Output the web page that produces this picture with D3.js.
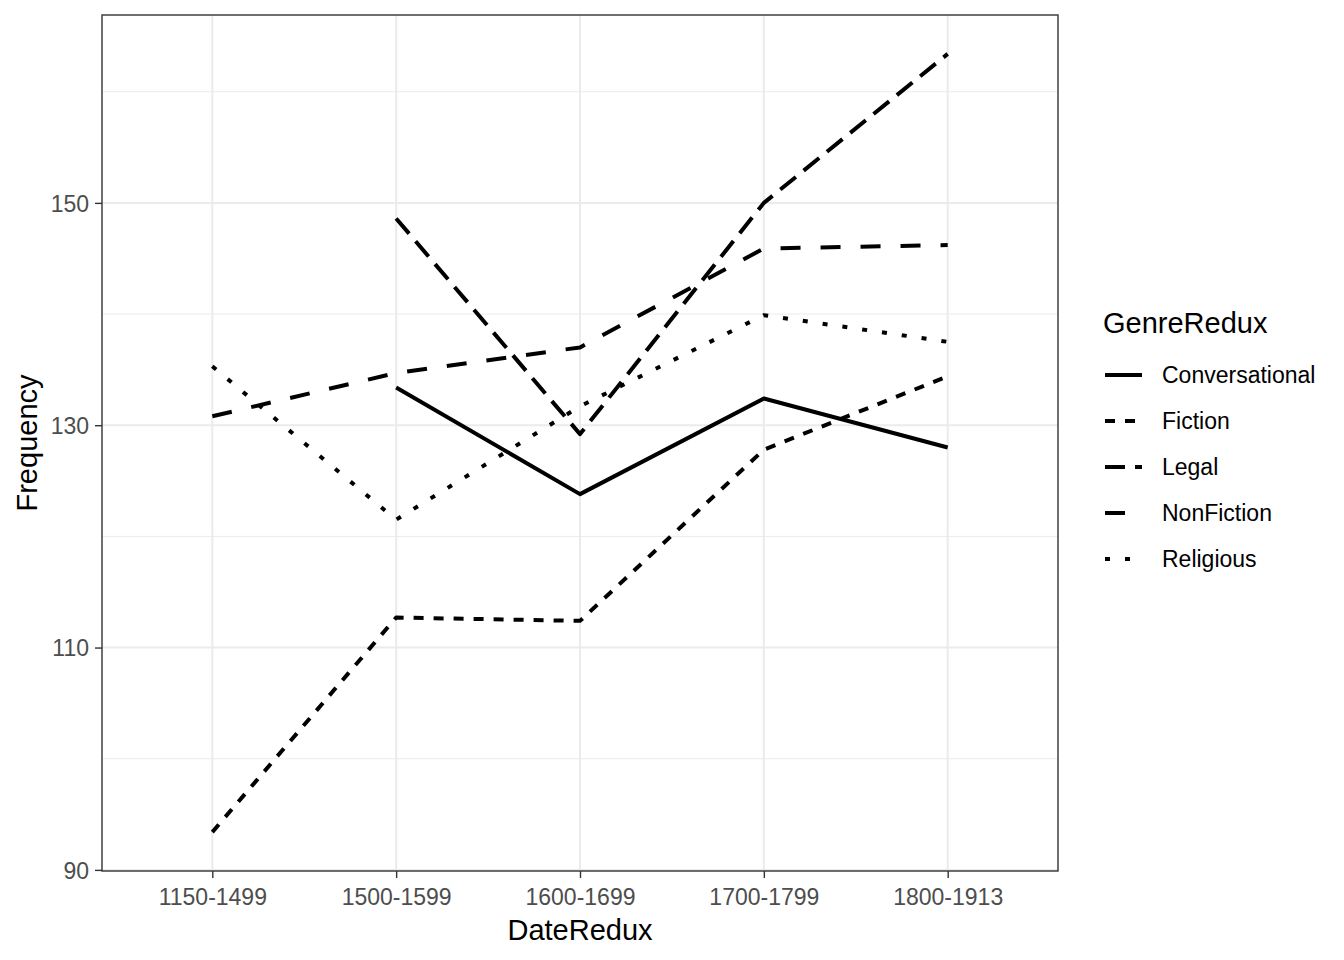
<!DOCTYPE html>
<html>
<head>
<meta charset="utf-8">
<script src="https://cdn.jsdelivr.net/npm/d3@7"></script>
<style>
  html, body { margin: 0; padding: 0; background: #fff; }
  svg text { font-family: "Liberation Sans", Arial, sans-serif; }
</style>
</head>
<body>
<svg id="chart" width="1344" height="960"></svg>
<script>
// ---- data ----
const categories = ["1150-1499", "1500-1599", "1600-1699", "1700-1799", "1800-1913"];
const genres = ["Conversational", "Fiction", "Legal", "NonFiction", "Religious"];
const conversational = [null, 133.4, 123.8, 132.4, 128.0];
const fiction        = [93.4, 112.7, 112.4, 127.8, 134.4];
const legal          = [null, 148.6, 129.2, 150.0, 163.4];
const nonfiction     = [130.8, 134.7, 137.0, 145.9, 146.2];
const religious      = [135.3, 121.5, 131.7, 139.9, 137.5];
const yTicks = [90, 110, 130, 150];
const yMinor = [100, 120, 140, 160];
const seriesValues = [conversational, fiction, legal, nonfiction, religious];
// ggplot linetypes: solid, "22", "42", "44", "13"
const dashes = [null, "10,10", "20,10", "20,20", "5,15"];

const svg = d3.select("#chart");
const W = 1344, H = 960;
const panel = {left: 102, right: 1058, top: 15, bottom: 871};

// discrete x with ggplot's 0.6 expansion
const x = d3.scalePoint().domain(categories)
  .range([panel.left, panel.right]).padding(0.6);

const allVals = seriesValues.flat().filter(v => v != null);
const vmin = d3.min(allVals), vmax = d3.max(allVals);
const ex = (vmax - vmin) * 0.05;
const y = d3.scaleLinear().domain([vmin - ex, vmax + ex]).range([panel.bottom, panel.top]);

svg.append("rect").attr("x", 0).attr("y", 0).attr("width", W).attr("height", H).attr("fill", "#fff");

const g = svg.append("g");
g.selectAll(".minor").data(yMinor).enter().append("line")
  .attr("x1", panel.left).attr("x2", panel.right)
  .attr("y1", d => y(d)).attr("y2", d => y(d))
  .attr("stroke", "#EBEBEB").attr("stroke-width", 1);
g.selectAll(".majory").data(yTicks).enter().append("line")
  .attr("x1", panel.left).attr("x2", panel.right)
  .attr("y1", d => y(d)).attr("y2", d => y(d))
  .attr("stroke", "#EBEBEB").attr("stroke-width", 2);
g.selectAll(".majorx").data(categories).enter().append("line")
  .attr("y1", panel.top).attr("y2", panel.bottom)
  .attr("x1", d => x(d)).attr("x2", d => x(d))
  .attr("stroke", "#EBEBEB").attr("stroke-width", 2);

const line = d3.line()
  .defined(d => d.v != null)
  .x(d => x(d.c)).y(d => y(d.v));

genres.forEach((gname, i) => {
  const pts = categories.map((c, j) => ({c: c, v: seriesValues[i][j]}));
  g.append("path").datum(pts)
    .attr("d", line)
    .attr("fill", "none")
    .attr("stroke", "#000")
    .attr("stroke-width", 4)
    .attr("stroke-linejoin", "round")
    .attr("stroke-linecap", "butt")
    .attr("stroke-dasharray", dashes[i]);
});

svg.append("rect")
  .attr("x", panel.left).attr("y", panel.top)
  .attr("width", panel.right - panel.left).attr("height", panel.bottom - panel.top)
  .attr("fill", "none").attr("stroke", "#333333").attr("stroke-width", 1.4);

const yAxis = d3.axisLeft(y).tickValues(yTicks).tickSize(7).tickPadding(6);
const ya = svg.append("g").attr("transform", `translate(${panel.left},0)`).call(yAxis);
ya.select(".domain").remove();
ya.selectAll(".tick line").attr("stroke", "#333333").attr("stroke-width", 1.4);
ya.selectAll(".tick text").attr("fill", "#4D4D4D").style("font-size", "23px")
  .style("font-family", "'Liberation Sans', Arial, sans-serif").attr("dy", "0.36em");

const xAxis = d3.axisBottom(x).tickSize(7).tickPadding(6);
const xa = svg.append("g").attr("transform", `translate(0,${panel.bottom})`).call(xAxis);
xa.select(".domain").remove();
xa.selectAll(".tick line").attr("stroke", "#333333").attr("stroke-width", 1.4);
xa.selectAll(".tick text").attr("fill", "#4D4D4D").style("font-size", "23px")
  .style("font-family", "'Liberation Sans', Arial, sans-serif").attr("dy", "0.9em");

svg.append("text").attr("x", (panel.left + panel.right) / 2).attr("y", 940)
  .attr("text-anchor", "middle").style("font-size", "29px").attr("fill", "#000")
  .text("DateRedux");
svg.append("text")
  .attr("transform", `translate(37,${(panel.top + panel.bottom) / 2}) rotate(-90)`)
  .attr("text-anchor", "middle").style("font-size", "29px").attr("fill", "#000")
  .text("Frequency");

const lg = svg.append("g");
lg.append("text").attr("x", 1103).attr("y", 333).style("font-size", "29px").attr("fill", "#000")
  .text("GenreRedux");
genres.forEach((gname, i) => {
  const cy = 375 + i * 46;
  lg.append("line").attr("x1", 1105).attr("x2", 1142).attr("y1", cy).attr("y2", cy)
    .attr("stroke", "#000").attr("stroke-width", 4)
    .attr("stroke-linecap", "butt").attr("stroke-dasharray", dashes[i]);
  lg.append("text").attr("x", 1162).attr("y", cy + 8).style("font-size", "23px")
    .attr("fill", "#000").text(gname);
});
</script>
</body>
</html>
